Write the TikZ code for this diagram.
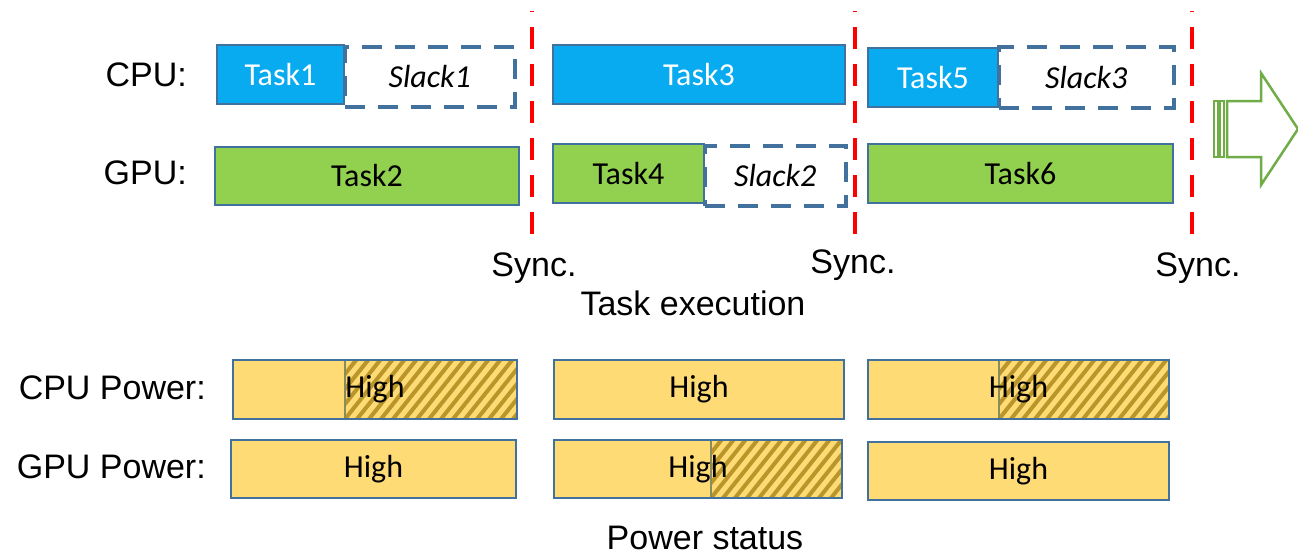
\documentclass[tikz,border=0pt]{standalone}
\usepackage{fontspec}
\setmainfont{Liberation Sans}
\newfontfamily\calib{Carlito}
\definecolor{cpublue}{RGB}{8,170,240}
\definecolor{gpugreen}{RGB}{146,208,80}
\definecolor{bordc}{RGB}{65,113,156}
\definecolor{pwrfill}{RGB}{255,219,118}
\definecolor{hatchc}{RGB}{186,150,42}
\definecolor{hatchedge}{RGB}{140,140,90}
\definecolor{arrowgreen}{RGB}{112,173,71}
\begin{document}
\begin{tikzpicture}[x=1pt,y=-1pt,
  lbl/.style={inner sep=0pt, font=\fontsize{34}{40}\selectfont},
  box/.style={draw=bordc, line width=2pt, inner sep=0pt, anchor=north west,
    font=\calib\fontsize{32}{38}\selectfont},
  cputask/.style={box, fill=cpublue, text=white},
  gputask/.style={box, fill=gpugreen, text=black},
  slackbox/.style={box, fill=white, line width=3.5pt, dash pattern=on 20pt off 13pt,
    font=\calib\itshape\fontsize{32}{38}\selectfont},
  pwrbox/.style={box, fill=pwrfill},
  hatchfrom/.style={path picture={
    \begin{scope}
      \clip ([xshift=#1pt]path picture bounding box.south west) rectangle (path picture bounding box.north east);
      \foreach \k in {-6,...,30}{
        \draw[line width=4pt, hatchc] ([xshift=\k*12pt+#1pt]path picture bounding box.south west) -- ++(80,-100);}
    \end{scope}
    \draw[line width=1.2pt, hatchedge] ([xshift=#1pt]path picture bounding box.south west)
      -- ([xshift=#1pt]path picture bounding box.north west);
  }},
  syncline/.style={red, line width=4.5pt, dash pattern=on 22pt off 15pt, dash phase=21pt},
  arrowline/.style={draw=arrowgreen, line width=2.5pt, fill=white}
]
\useasboundingbox (0,0) rectangle (1298,555);

% row labels
\node[lbl, anchor=east] (cpulbl) at (187,75) {CPU:};
\node[lbl, anchor=east] (gpulbl) at (187,173) {GPU:};
\node[lbl, anchor=east] (cpupwr) at (206,388) {CPU Power:};
\node[lbl, anchor=east] (gpupwr) at (206,467) {GPU Power:};

% slack boxes (under tasks)
\node[slackbox, minimum width=170pt, minimum height=60pt] (slack1) at (343,45) {Slack1};
\node[slackbox, minimum width=141pt, minimum height=60pt] (slack2) at (703,144) {Slack2};
\node[slackbox, minimum width=175pt, minimum height=61pt] (slack3) at (997,45) {Slack3};

% tasks
\node[cputask, minimum width=127pt, minimum height=59pt] (task1) at (216,44) {Task1};
\node[gputask, minimum width=304pt, minimum height=58pt] (task2) at (214,146) {Task2};
\node[cputask, minimum width=292pt, minimum height=59pt] (task3) at (552,44) {Task3};
\node[gputask, minimum width=151pt, minimum height=59pt] (task4) at (552,143) {Task4};
\node[cputask, minimum width=130pt, minimum height=59pt] (task5) at (867,47) {Task5};
\node[gputask, minimum width=305pt, minimum height=59pt] (task6) at (867,143) {Task6};

% sync lines
\foreach \n/\xx in {1/532,2/855,3/1192}{
  \coordinate (s\n top) at (\xx,11);
  \coordinate (s\n bot) at (\xx,240);
  \draw[syncline] (s\n top) -- (s\n bot);
}
\node[lbl] (sync1) at (534,268) {Sync.};
\node[lbl] (sync2) at (853,265) {Sync.};
\node[lbl] (sync3) at (1198,268) {Sync.};
\node[lbl] (taskexec) at (693,303) {Task execution};

% arrow
\draw[arrowgreen, line width=2pt, fill=white] (1214,101) rectangle (1218,157);
\draw[arrowgreen, line width=2pt, fill=white] (1220,101) rectangle (1224,157);
\draw[arrowline] (1227,101) -- (1261,101) -- (1261,73) -- (1298,129) -- (1261,185)
  -- (1261,157) -- (1227,157) -- cycle;

% power status
\node[pwrbox, hatchfrom=112, minimum width=284pt, minimum height=59pt] (cp1) at (232,359) {High};
\node[pwrbox, minimum width=290pt, minimum height=59pt] (cp2) at (553,359) {High};
\node[pwrbox, hatchfrom=131, minimum width=301pt, minimum height=59pt] (cp3) at (867,359) {High};
\node[pwrbox, minimum width=285pt, minimum height=58pt] (gp1) at (230,439) {High};
\node[pwrbox, hatchfrom=157, minimum width=288pt, minimum height=58pt] (gp2) at (553,439) {High};
\node[pwrbox, minimum width=301pt, minimum height=58pt] (gp3) at (867,441) {High};

\node[lbl] (pwrstatus) at (705,538) {Power status};
\end{tikzpicture}
\end{document}
